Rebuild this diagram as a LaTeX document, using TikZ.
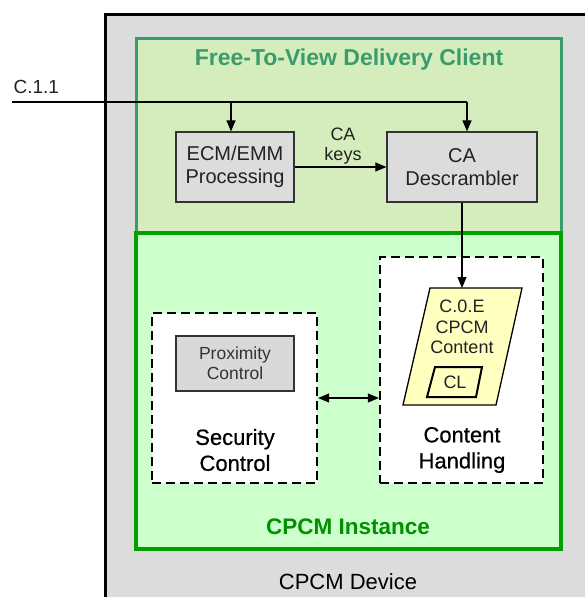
\documentclass[tikz,border=0pt]{standalone}
\usepackage{fontspec}
\setmainfont{Liberation Sans}
\newfontfamily\semibold[FakeBold=0.6]{Liberation Sans}
\usetikzlibrary{arrows.meta}
\definecolor{devfill}{HTML}{DCDCDC}
\definecolor{ftvfill}{HTML}{D5EDBC}
\definecolor{ftvline}{HTML}{3A9C6C}
\definecolor{instfill}{HTML}{CCFFCC}
\definecolor{instline}{HTML}{00A000}
\definecolor{boxfill}{HTML}{DCDCDC}
\definecolor{ceFill}{HTML}{FFFFC0}
\definecolor{txt}{HTML}{222222}
\tikzset{
  procbox/.style={draw=black!80, line width=1.2pt, fill=boxfill, inner sep=0pt, align=center, text=txt, font=\fontsize{20}{23}\selectfont},
  dashbox/.style={draw=black, line width=2.3pt, dash pattern=on 9pt off 5pt, fill=white},
  conn/.style={line width=1.1pt, draw=black},
  tip/.style={-{Triangle[length=11pt,width=9pt]}},
  big/.style={font=\semibold\fontsize{22}{26}\selectfont, align=center, text=black},
  lbl/.style={align=center, text=txt},
}
\begin{document}
\begin{tikzpicture}[x=1pt,y=-1pt]
\useasboundingbox (0,0) rectangle (585,597);
\begin{scope}
\clip (0,0) rectangle (585,597);
% device
\draw[line width=3pt, fill=devfill] (105,14) rectangle (620,640);
% FTV
\draw[line width=3pt, draw=ftvline, fill=ftvfill] (136,38) rectangle (561,233);
% instance
\draw[line width=3.5pt, draw=instline, fill=instfill] (136,233) rectangle (561,549);
\end{scope}

\node[font=\bfseries\fontsize{23}{26}\selectfont, text=ftvline] (ftvt) at (349,60) {Free-To-View Delivery Client};
\node[font=\bfseries\fontsize{22.5}{26}\selectfont, text=instline!90!black] (instt) at (348,527) {CPCM Instance};
\node[font=\fontsize{22}{26}\selectfont, text=black] (devt) at (348,582) {CPCM Device};

% FTV contents
\node[procbox, minimum width=118pt, minimum height=70pt] (ecm) at (235,167) {ECM/EMM\\Processing};
\node[procbox, minimum width=150pt, minimum height=70pt] (ca) at (462,167) {CA\\Descrambler};
\node[lbl, font=\fontsize{18}{20}\selectfont] (keys) at (343,146) {CA\\keys};

\node[lbl, anchor=west, font=\fontsize{19}{22}\selectfont] (c11) at (10,87) {C.1.1};
\coordinate (in) at (12,102);
\coordinate (j1) at (231,102);
\coordinate (j2) at (467,102);
\draw[conn] (in) -- (j2);
\draw[conn, tip] (j1) -- (j1 |- ecm.north);
\draw[conn, tip] (j2) -- (j2 |- ca.north);
\draw[conn, tip] (ecm.east) -- (ca.west);

% Security control
\node[dashbox, minimum width=165pt, minimum height=170pt] (sec) at (234.5,398) {};
\node[procbox, minimum width=118pt, minimum height=55pt, fill=boxfill!110!white, font=\fontsize{17.5}{20}\selectfont, text=black!80] (prox) at (235,363.5) {Proximity\\Control};
\node[big] (sect) at (235,450) {Security\\Control};

% Content handling
\node[dashbox, minimum width=163pt, minimum height=226pt] (ch) at (461.5,370) {};
\draw[line width=1.3pt, fill=ceFill] (430,288) -- (522,288) -- (496,405) -- (403,405) -- cycle;
\coordinate (ceTop) at (462,288);
\node[lbl, font=\fontsize{18}{20.5}\selectfont] (cet) at (462,327) {C.0.E\\CPCM\\Content};
\draw[line width=2pt, fill=ceFill] (435,367) -- (482,367) -- (476,397) -- (427,397) -- cycle;
\node[lbl, font=\fontsize{18}{20}\selectfont] (cl) at (455,382) {CL};
\node[big] (cht) at (462,450) {Content\\Handling};

\draw[conn, tip] (ca.south -| ceTop) -- (ceTop);
\draw[conn, {Triangle[length=11pt,width=9pt]}-{Triangle[length=11pt,width=9pt]}] (sec.east) -- (sec.east -| ch.west);
\end{tikzpicture}
\end{document}
